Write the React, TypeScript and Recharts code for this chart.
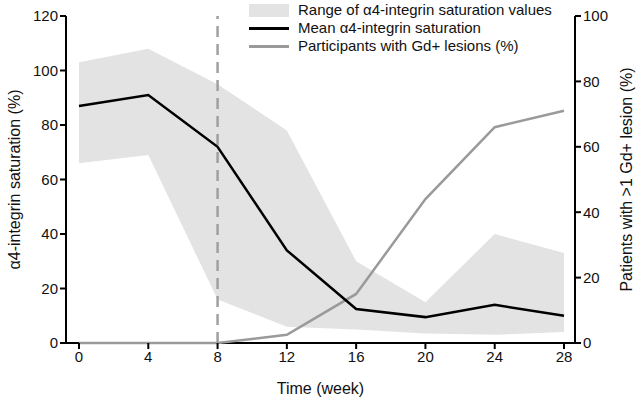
import { ComposedChart, Area, Line, XAxis, YAxis, ReferenceLine } from "recharts"

const weeks = [0, 4, 8, 12, 16, 20, 24, 28]
const meanSaturation = [87, 91, 72, 34, 12.5, 9.5, 14, 10]
const rangeLow = [66, 69, 16, 6, 5, 3.5, 3, 4]
const rangeHigh = [103, 108, 95, 78, 30, 15, 40, 33]
const gdLesions = [0, 0, 0, 2.5, 15, 44, 66, 71]

const xTicks = [0, 4, 8, 12, 16, 20, 24, 28]
const leftTicks = [0, 20, 40, 60, 80, 100, 120]
const rightTicks = [0, 20, 40, 60, 80, 100]

const legendItems = [
    { label: "Range of α4-integrin saturation values", kind: "box" },
    { label: "Mean α4-integrin saturation", kind: "black" },
    { label: "Participants with Gd+ lesions (%)", kind: "grey" },
]

const data = weeks.map((w, i) => ({
    week: w,
    range: [rangeLow[i], rangeHigh[i]],
    mean: meanSaturation[i],
    gd: gdLesions[i],
}))

const font = "'Liberation Sans', Arial, sans-serif"

function LegendBox() {
    return (
        <div style={{ position: "absolute", left: 249, top: 1, fontFamily: font, fontSize: 15, color: "#111", lineHeight: "18px" }}>
            {legendItems.map((r) => (
                <div key={r.label} style={{ display: "flex", alignItems: "center", height: 18 }}>
                    <span style={{
                        display: "inline-block",
                        width: 40,
                        height: r.kind === "box" ? 13 : 3,
                        background: r.kind === "box" ? "#e3e3e3" : r.kind === "black" ? "#000" : "#9a9a9a",
                        marginRight: 9,
                    }} />
                    <span>{r.label}</span>
                </div>
            ))}
        </div>
    )
}

export default function App() {
    return (
        <div style={{ position: "absolute", left: 0, top: 0, width: 636, height: 402, background: "#fff" }}>
            <ComposedChart width={636} height={402} data={data}
                margin={{ top: 16, right: 0, bottom: 0, left: 0 }}>
                <XAxis
                    dataKey="week"
                    type="number"
                    domain={[0, 28]}
                    ticks={xTicks}
                    padding={{ left: 13, right: 11 }}
                    height={59}
                    axisLine={false}
                    tickLine={{ stroke: "#000", strokeWidth: 2 }}
                    tickSize={6}
                    tick={{ fill: "#111", fontSize: 15, fontFamily: font }}
                    label={{ value: "Time (week)", position: "insideBottom", offset: 8, fill: "#111", fontSize: 16, fontFamily: font }}
                />
                <YAxis
                    yAxisId="left"
                    domain={[0, 120]}
                    ticks={leftTicks}
                    width={66}
                    stroke="#000"
                    strokeWidth={2}
                    tickSize={6}
                    tick={{ fill: "#111", fontSize: 15, fontFamily: font }}
                    label={{ value: "α4-integrin saturation (%)", angle: -90, position: "insideLeft", offset: 14, style: { textAnchor: "middle" }, fill: "#111", fontSize: 16, fontFamily: font }}
                />
                <YAxis
                    yAxisId="right"
                    orientation="right"
                    domain={[0, 100]}
                    ticks={rightTicks}
                    width={61}
                    stroke="#000"
                    strokeWidth={2}
                    tickSize={6}
                    tick={{ fill: "#111", fontSize: 15, fontFamily: font }}
                    label={{ value: "Patients with >1 Gd+ lesion (%)", angle: -90, position: "insideRight", offset: 10, style: { textAnchor: "middle" }, fill: "#111", fontSize: 16, fontFamily: font }}
                />
                <Area
                    yAxisId="left"
                    dataKey="range"
                    type="linear"
                    fill="#e3e3e3"
                    fillOpacity={1}
                    stroke="none"
                    isAnimationActive={false}
                />
                <ReferenceLine yAxisId="left" y={0} stroke="#000" strokeWidth={2} />
                <ReferenceLine yAxisId="left" x={8} stroke="#a0a0a0" strokeWidth={2.5} strokeDasharray="11 7" />
                <Line
                    yAxisId="right"
                    dataKey="gd"
                    type="linear"
                    stroke="#9a9a9a"
                    strokeWidth={2.5}
                    dot={false}
                    isAnimationActive={false}
                />
                <Line
                    yAxisId="left"
                    dataKey="mean"
                    type="linear"
                    stroke="#000"
                    strokeWidth={2.5}
                    dot={false}
                    isAnimationActive={false}
                />
            </ComposedChart>
            <LegendBox />
        </div>
    )
}
